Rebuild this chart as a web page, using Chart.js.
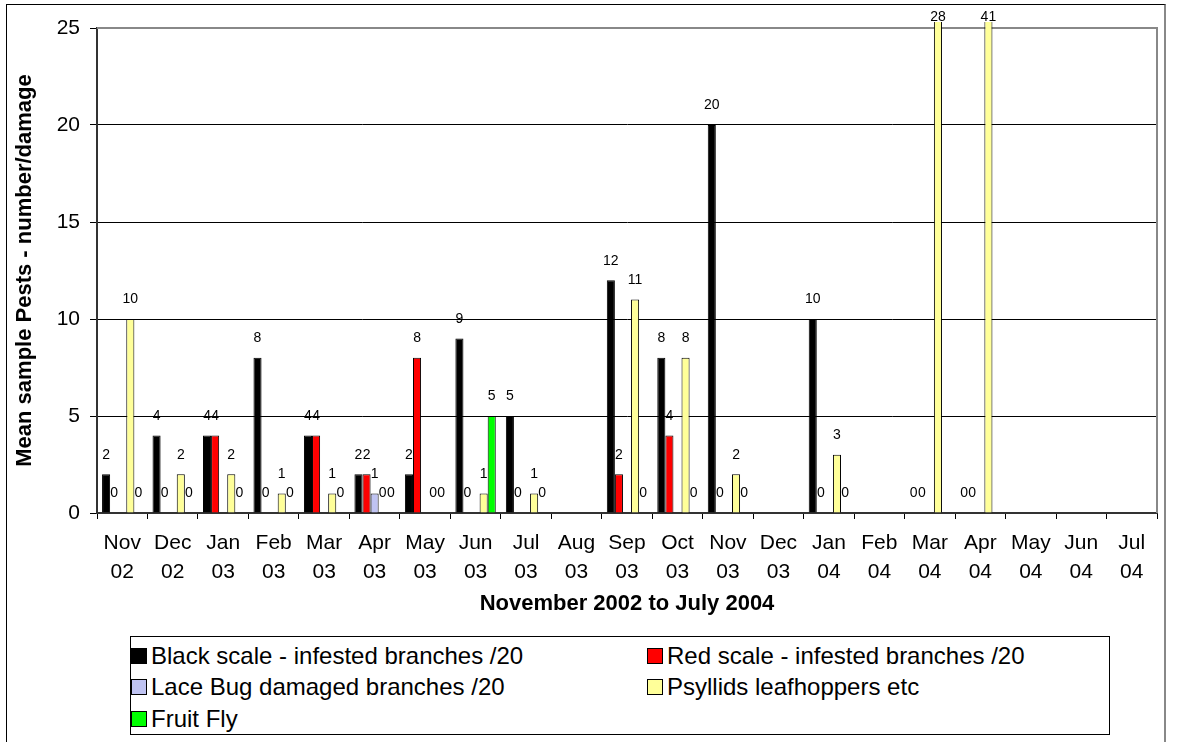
<!DOCTYPE html>
<html>
<head>
<meta charset="utf-8">
<title>Pests November 2002 to July 2004</title>
<script src="https://cdn.jsdelivr.net/npm/chart.js@4.4.1/dist/chart.umd.min.js"></script>
<style>
  html, body { margin: 0; padding: 0; background: #fff; }
  #wrap { position: relative; width: 1177px; height: 742px; overflow: hidden; }
  #chart { position: absolute; left: 0; top: 0; }
  #frame {
    position: absolute; left: 6px; top: 4px; width: 1157px; height: 800px;
    border-left: 1px solid #000; border-top: 1px solid #000; border-right: 2px solid #888;
    pointer-events: none;
  }
  #legend {
    position: absolute; left: 130px; top: 636px; width: 980px; height: 99px;
    border: 1px solid #000; background: #fff;
    display: grid; grid-template-columns: 516px 1fr; grid-auto-rows: 31.5px;
    padding-top: 3px; box-sizing: border-box;
    font: 24px "Liberation Sans", Arial, sans-serif; color: #000;
  }
  .item { display: flex; align-items: center; white-space: nowrap; }
  .swatch { width: 16px; height: 16px; box-sizing: border-box; border: 1px solid #000; margin-right: 4px; }
</style>
</head>
<body>
<div id="wrap">
  <canvas id="chart"></canvas>
  <div id="frame"></div>
  <div id="legend"></div>
</div>
<script>
// Categories: month + two-digit year
const months = ['Nov 02', 'Dec 02', 'Jan 03', 'Feb 03', 'Mar 03', 'Apr 03', 'May 03', 'Jun 03', 'Jul 03',
  'Aug 03', 'Sep 03', 'Oct 03', 'Nov 03', 'Dec 03', 'Jan 04', 'Feb 04', 'Mar 04', 'Apr 04',
  'May 04', 'Jun 04', 'Jul 04'];

// Series values (null = not sampled)
const blackScale = [2, 4, 4, 8, 4, 2, 2, 9, 5, null, 12, 8, 20, null, 10, null, 0, 0, null, null, null];
const redScale   = [0, 0, 4, 0, 4, 2, 8, 0, 0, null, 2, 4, 0, null, 0, null, 0, 0, null, null, null];
const laceBug    = [null, null, null, null, null, 1, null, null, null, null, null, null, null, null, null, null, null, null, null, null, null];
const psyllids   = [10, 2, 2, 1, 1, 0, 0, 1, 1, null, 11, 8, 2, null, 3, null, 28, 41, null, null, null];
const fruitFly   = [0, 0, 0, 0, 0, 0, 0, 5, 0, null, 0, 0, 0, null, 0, null, null, null, null, null, null];

const seriesNames = ['Black scale - infested branches /20', 'Red scale - infested branches /20',
  'Lace Bug damaged branches /20', 'Psyllids leafhoppers etc', 'Fruit Fly'];
const seriesColors = ['#000000', '#ff0000', '#bfc3f2', '#ffff99', '#00ff00'];
const seriesData = [blackScale, redScale, laceBug, psyllids, fruitFly];

// Y axis ticks
const yMin = 0, yMax = 25, yStep = 5;

const FONT = '"Liberation Sans", Arial, sans-serif';

/**
 * Value labels above each bar (drawn also for zeros, like the original)
 */
const barLabels = {
  id: 'barLabels',
  afterDatasetsDraw(chart) {
    const { ctx, chartArea } = chart;
    ctx.save();
    ctx.font = '14px ' + FONT;
    ctx.fillStyle = '#000';
    ctx.textAlign = 'center';
    ctx.textBaseline = 'middle';
    chart.data.datasets.forEach((ds, i) => {
      chart.getDatasetMeta(i).data.forEach((bar, j) => {
        const v = ds.data[j];
        if (v === null || v === undefined) return;
        const y = bar.y < chartArea.top ? chartArea.top - 10.5 : bar.y - 19.5;
        ctx.fillText(String(v), bar.x, y);
      });
    });
    ctx.restore();
  }
};

/**
 * Grey plot-area border on top and right
 */
const plotFrame = {
  id: 'plotFrame',
  beforeDatasetsDraw(chart) {
    const { ctx, chartArea: a } = chart;
    ctx.save();
    ctx.strokeStyle = '#888';
    ctx.lineWidth = 2;
    ctx.beginPath();
    ctx.moveTo(a.left, a.top);
    ctx.lineTo(a.right, a.top);
    ctx.lineTo(a.right, a.bottom);
    ctx.stroke();
    ctx.restore();
  }
};

function buildLegend() {
  const el = document.getElementById('legend');
  el.innerHTML = seriesNames.map((name, i) =>
    `<div class="item"><span class="swatch" style="background:${seriesColors[i]}"></span>${name}</div>`
  ).join('');
}

function createChart() {
  const ctx = document.getElementById('chart');
  ctx.width = 1177;
  ctx.height = 742;

  new Chart(ctx, {
    type: 'bar',
    data: {
      labels: months.map(m => m.split(' ')),
      datasets: seriesData.map((data, i) => ({
        label: seriesNames[i],
        data,
        backgroundColor: seriesColors[i],
        borderColor: '#000',
        borderWidth: 1,
        barPercentage: 1,
        categoryPercentage: 0.8,
        clip: { left: 0, top: 6, right: 0, bottom: 0 }
      }))
    },
    options: {
      responsive: false,
      animation: false,
      layout: { padding: { left: 0, top: 28, right: 20, bottom: 121 } },
      plugins: {
        legend: { display: false },
        tooltip: { enabled: false }
      },
      scales: {
        x: {
          offset: true,
          grid: { offset: true, drawOnChartArea: false, drawTicks: true, tickLength: 6, tickColor: '#000' },
          border: { color: '#333', width: 2 },
          ticks: {
            color: '#000', padding: 9.5, maxRotation: 0, autoSkip: false,
            font: { family: FONT, size: 21, lineHeight: 1.38 }
          },
          title: {
            display: true, text: 'November 2002 to July 2004', color: '#000',
            font: { family: FONT, size: 22, weight: 'bold' }, padding: { top: 0, bottom: 4 }
          },
          afterFit(scale) { scale.height = 108; }
        },
        y: {
          min: yMin, max: yMax,
          grid: {
            color: c => (c.tick && c.tick.value === yMax ? '#888' : '#000'),
            tickColor: '#000', tickLength: 7, lineWidth: 1
          },
          border: { color: '#333', width: 2 },
          ticks: {
            stepSize: yStep, color: '#000', padding: 10,
            font: { family: FONT, size: 21 }
          },
          title: {
            display: true, text: 'Mean sample Pests - number/damage', color: '#000',
            font: { family: FONT, size: 22, weight: 'bold' }, padding: { top: 12, bottom: 0 }
          },
          afterFit(scale) { scale.width = 97; }
        }
      }
    },
    plugins: [plotFrame, barLabels]
  });
}

document.addEventListener('DOMContentLoaded', () => {
  buildLegend();
  createChart();
});
</script>
</body>
</html>
